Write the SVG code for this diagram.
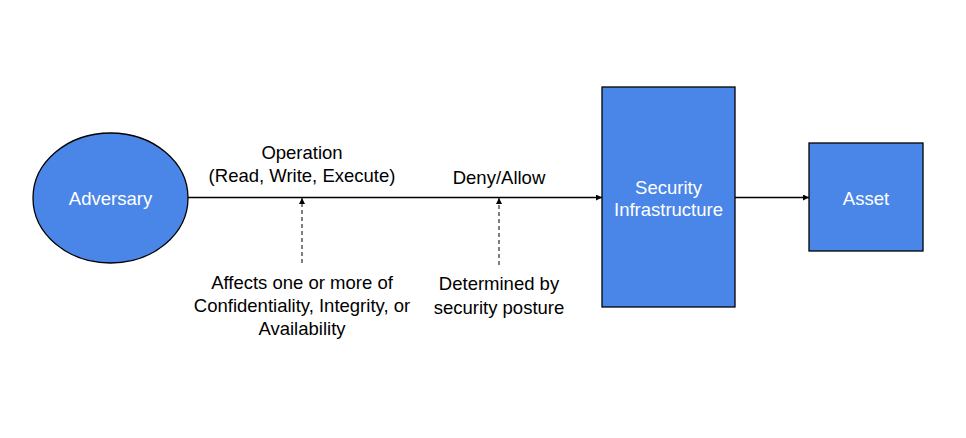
<svg xmlns="http://www.w3.org/2000/svg" width="966" height="438" viewBox="0 0 966 438">
<style>
.node{fill:#4a86e8;stroke:#000;stroke-width:1.3}
.nt{font-family:"Liberation Sans",Arial,sans-serif;font-size:18.5px;fill:#fff;text-anchor:middle}
.lt{font-family:"Liberation Sans",Arial,sans-serif;font-size:18.5px;fill:#000;text-anchor:middle}
.c{stroke:#000;stroke-width:1.3;fill:none}
.d{stroke:#000;stroke-width:1;fill:none;stroke-dasharray:4,3}
</style>
<defs>
<marker id="ah" viewBox="0 0 10 10" refX="10" refY="5" markerWidth="6" markerHeight="6" markerUnits="userSpaceOnUse" orient="auto"><path d="M0,0L10,5L0,10z" fill="#000"/></marker>
</defs>
<rect width="966" height="438" fill="#fff"/>
<g id="connectors">
<line class="c" x1="188" y1="197.5" x2="602" y2="197.5" marker-end="url(#ah)"/>
<line class="c" x1="735" y1="197.5" x2="809" y2="197.5" marker-end="url(#ah)"/>
<line class="d" x1="302" y1="263" x2="302" y2="198" marker-end="url(#ah)"/>
<line class="d" x1="499" y1="265" x2="499" y2="198" marker-end="url(#ah)"/>
</g>
<g id="adversary">
<ellipse class="node" cx="110.5" cy="198" rx="77.5" ry="65"/>
<text class="nt" x="110.5" y="204.5">Adversary</text>
</g>
<g id="security">
<rect class="node" x="602" y="87" width="133" height="220"/>
<text class="nt" x="668.5" y="193.5">Security</text>
<text class="nt" x="668.5" y="215.5">Infrastructure</text>
</g>
<g id="asset">
<rect class="node" x="809" y="143" width="114" height="108"/>
<text class="nt" x="866" y="204.5">Asset</text>
</g>
<g id="labels">
<text class="lt" x="302" y="158.5">Operation</text>
<text class="lt" x="302" y="181.5">(Read, Write, Execute)</text>
<text class="lt" x="499" y="183.5">Deny/Allow</text>
<text class="lt" x="302" y="289">Affects one or more of</text>
<text class="lt" x="302" y="312">Confidentiality, Integrity, or</text>
<text class="lt" x="302" y="335">Availability</text>
<text class="lt" x="499" y="289.5">Determined by</text>
<text class="lt" x="499" y="313.5">security posture</text>
</g>
</svg>
